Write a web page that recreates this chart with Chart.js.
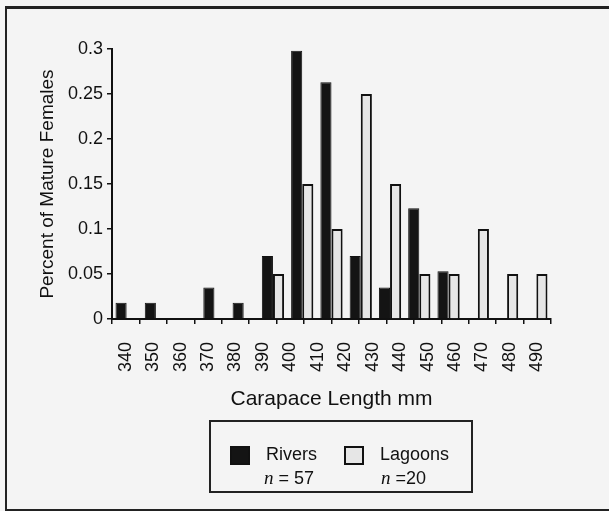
<!DOCTYPE html>
<html>
<head>
<meta charset="utf-8">
<script src="https://cdn.jsdelivr.net/npm/chart.js@4/dist/chart.umd.min.js"></script>
<style>
  html, body { margin: 0; padding: 0; width: 609px; height: 511px; overflow: hidden; background: #f4f4f4; }
  #frame { position: absolute; left: 5px; top: 6px; width: 620px; height: 500px; border: 2px solid #222; border-top-width: 3px; }
  #myChart { position: absolute; left: 0; top: 0; }
  #legend { position: absolute; left: 209px; top: 420px; width: 260px; height: 69px; border: 2px solid #222; font-family: "Liberation Sans", Arial, sans-serif; color: #111; }
  .item { position: absolute; top: 0; }
  .swatch { position: absolute; width: 20px; height: 19px; top: 24px; box-sizing: border-box; border: 2px solid #111; }
  .name { position: absolute; top: 22px; font-size: 18px; white-space: nowrap; }
  .n { position: absolute; top: 45px; font-size: 18px; white-space: nowrap; }
  .n i { font-family: "Liberation Serif", "Times New Roman", serif; font-size: 19px; }
</style>
</head>
<body>
<div id="frame"></div>
<canvas id="myChart" width="609" height="511"></canvas>
<div id="legend"></div>
<script>
// bins start at these lengths (mm), each bin 10 mm wide
let bins = [340, 350, 360, 370, 380, 390, 400, 410, 420, 430, 440, 450, 460, 470, 480];
let xTicks = [340, 350, 360, 370, 380, 390, 400, 410, 420, 430, 440, 450, 460, 470, 480, 490];
let yTicks = ["0", "0.05", "0.1", "0.15", "0.2", "0.25", "0.3"];

let rivers = [0.018, 0.018, 0, 0.035, 0.018, 0.07, 0.298, 0.263, 0.07, 0.035, 0.123, 0.053, 0, 0, 0];
let lagoons = [0, 0, 0, 0, 0, 0.05, 0.15, 0.1, 0.25, 0.15, 0.05, 0.05, 0.1, 0.05, 0.05];

let seriesNames = ["Rivers", "Lagoons"];
let seriesN = [57, 20];
let seriesFill = ["#141414", "#e6e6e6"];

const font = "'Liberation Sans', Arial, sans-serif";

let ctx = document.getElementById("myChart").getContext("2d");

let myChart = new Chart(ctx, {
  type: "bar",
  data: {
    labels: bins,
    datasets: [
      {
        label: seriesNames[0],
        data: rivers,
        backgroundColor: seriesFill[0],
        borderColor: "#111",
        borderWidth: 1,
      },
      {
        label: seriesNames[1],
        data: lagoons,
        backgroundColor: seriesFill[1],
        borderColor: "#111",
        borderWidth: 2,
      },
    ],
  },
  options: {
    responsive: false,
    devicePixelRatio: 1,
    animation: false,
    layout: { padding: { left: 0, top: 49, right: 58, bottom: 0 } },
    plugins: { legend: { display: false }, tooltip: { enabled: false } },
    datasets: { bar: { categoryPercentage: 0.76, barPercentage: 1.0 } },
    scales: {
      x: { display: false, offset: true },
      x2: {
        type: "linear",
        position: "bottom",
        min: 340,
        max: 490,
        afterFit: (scale) => { scale.height = 192; },
        afterBuildTicks: (scale) => { scale.ticks = xTicks.map((v) => ({ value: v })); },
        grid: { drawOnChartArea: false, tickLength: 5, color: "#111", lineWidth: 1.5 },
        border: { display: true, color: "#111", width: 2 },
        ticks: {
          autoSkip: false,
          minRotation: 90,
          maxRotation: 90,
          padding: 18,
          color: "#111",
          font: { family: font, size: 18 },
          callback: (v) => String(v),
        },
        title: {
          display: true,
          text: "Carapace Length mm",
          color: "#111",
          font: { family: font, size: 21 },
          padding: { top: 0, bottom: 99 },
        },
      },
      y: {
        min: 0,
        max: 0.3,
        afterFit: (scale) => { scale.width = 112; },
        afterBuildTicks: (scale) => { scale.ticks = yTicks.map((t) => ({ value: parseFloat(t) })); },
        grid: { drawOnChartArea: false, tickLength: 5, color: "#111", lineWidth: 1.5 },
        border: { display: true, color: "#111", width: 2 },
        ticks: {
          padding: 4,
          color: "#111",
          font: { family: font, size: 18 },
          callback: (v, i) => yTicks[i],
        },
        title: {
          display: true,
          text: "Percent of Mature Females",
          color: "#111",
          font: { family: font, size: 19 },
          padding: { top: 36, bottom: 0 },
        },
      },
    },
  },
});

// legend box below the chart
let legendLeft = [19, 133];
let legend = document.getElementById("legend");
for (let i = 0; i < seriesNames.length; i++) {
  const item = document.createElement("div");
  item.className = "item";
  item.style.left = legendLeft[i] + "px";
  item.innerHTML = `
    <div class="swatch" style="background:${seriesFill[i]}"></div>
    <div class="name" style="left:36px">${seriesNames[i]}</div>
    <div class="n" style="left:${i === 0 ? 34 : 37}px"><i>n</i> ${i === 0 ? "= " : "="}${seriesN[i]}</div>
  `;
  legend.appendChild(item);
}
</script>
</body>
</html>
